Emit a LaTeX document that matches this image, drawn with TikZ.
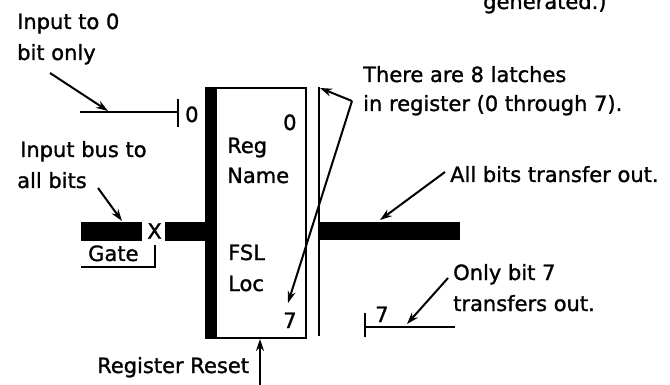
\documentclass[tikz,border=0pt]{standalone}
\usepackage{fontspec}
\setmainfont{DejaVu Sans}[BoldFont=DejaVu Sans, BoldFeatures={FakeBold=1.3}]
\usetikzlibrary{arrows.meta}
\begin{document}
\begin{tikzpicture}[x=1pt,y=-1pt,
  lbl/.style={inner sep=0pt, anchor=base west, font=\fontsize{21}{30}\selectfont\bfseries},
  ln/.style={line width=2pt},
  arr/.style={line width=2pt, -{Stealth[length=12pt,width=8pt]}},
  bus/.style={fill=black, draw=none, inner sep=0pt, anchor=north west}]
\useasboundingbox (0,0) rectangle (670,385);
\clip (0,0) rectangle (670,385);

% register box
\node[draw, line width=2pt, inner sep=0pt, minimum width=100pt, minimum height=250pt, anchor=north west] (reg) at (205,87) {};
\node[bus, minimum width=12pt, minimum height=251pt] (bar) at (205,87) {};
% latch line
\coordinate (vtop) at (319,87);
\coordinate (vbot) at (319,336);
\draw[ln] (vtop) -- (vbot);

% texts
\node[lbl] (t1) at (17,29) {Input to 0};
\node[lbl] (t2) at (17,60) {bit only};
\node[lbl] (t3) at (20,157) {Input bus to};
\node[lbl] (t4) at (17,188) {all bits};
\node[lbl] (gate) at (88,261) {Gate};
\node[lbl] (in0) at (185,122) {0};
\node[lbl] (r0) at (283,130) {0};
\node[lbl] (reg1) at (227,153) {Reg};
\node[lbl] (reg2) at (227,183) {Name};
\node[lbl] (fsl) at (228,260) {FSL};
\node[lbl] (loc) at (228,291) {Loc};
\node[lbl] (r7) at (283,328) {7};
\node[lbl] (t5) at (363,82) {There are 8 latches};
\node[lbl] (t6) at (363,111) {in register (0 through 7).};
\node[lbl] (t7) at (450,182) {All bits transfer out.};
\node[lbl] (t8) at (453,280) {Only bit 7};
\node[lbl] (t9) at (453,311) {transfers out.};
\node[lbl] (o7) at (375,322) {7};
\node[lbl] (rr) at (97,373) {Register Reset};
\node[lbl] (gen) at (483,9) {generated.)};
\node[inner sep=0pt, font=\fontsize{21}{30}\selectfont\bfseries] (x) at (154.5,231) {X};

% input to bit 0
\coordinate (l0a) at (80,112);
\coordinate (l0b) at (178,112);
\draw[ln] (l0a) -- (l0b);
\draw[ln] (178,99) -- (178,127);
\coordinate (a1s) at (50,73);
\coordinate (a1e) at (108,111);
\draw[arr] (a1s) -- (a1e);

% input bus
\node[bus, minimum width=61pt, minimum height=19pt] (ibl) at (81,222) {};
\node[bus, minimum width=41pt, minimum height=19pt] (ibr) at (165,222) {};
\coordinate (a2s) at (98,188);
\coordinate (a2e) at (122,221);
\draw[arr] (a2s) -- (a2e);
% gate bracket
\coordinate (g1) at (81,267);
\coordinate (g2) at (155,267);
\coordinate (g3) at (155,245);
\draw[ln] (g1) -- (g2) -- (g3);

% output bus
\node[bus, minimum width=141pt, minimum height=18pt] (ob) at (319,222) {};
\coordinate (a3s) at (445,172);
\coordinate (a3e) at (380,220);
\draw[arr] (a3s) -- (a3e);

% 8 latches arrows
\coordinate (v) at (352,101);
\coordinate (a4e) at (320,88);
\coordinate (a5e) at (288,303);
\draw[arr] (v) -- (a4e);
\draw[arr] (v) -- (a5e);

% only bit 7
\coordinate (o7a) at (365,327);
\coordinate (o7b) at (455,327);
\draw[ln] (o7a) -- (o7b);
\draw[ln] (365,313) -- (365,337);
\coordinate (a6s) at (448,278);
\coordinate (a6e) at (407,324);
\draw[arr] (a6s) -- (a6e);

% register reset
\coordinate (rrb) at (260,385);
\draw[arr] (rrb) -- (rrb |- reg.south);
\end{tikzpicture}
\end{document}
